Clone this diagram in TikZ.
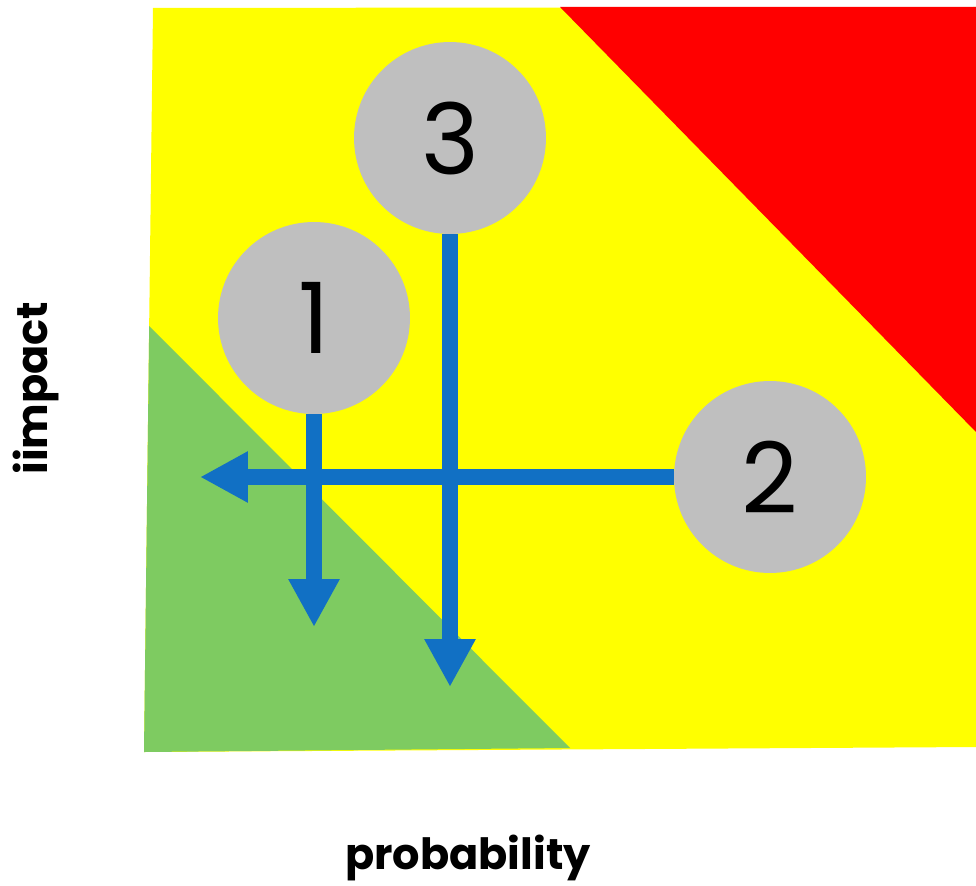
\documentclass[tikz,border=0pt]{standalone}
\usepackage{fontspec}
\setmainfont{Poppins}
\usepackage{xcolor}
\usetikzlibrary{arrows.meta}
\definecolor{zoneyellow}{HTML}{FFFF00}
\definecolor{zonered}{HTML}{FF0000}
\definecolor{zonegreen}{HTML}{7ECB61}
\definecolor{riskgray}{HTML}{BFBFBF}
\definecolor{moveblue}{HTML}{1170C4}
\tikzset{
  risk/.style={circle, fill=riskgray, minimum size=3.84cm, inner sep=0pt,
               font=\fontsize{56}{60}\selectfont},
  mv/.style={-{Triangle[length=0.96cm, width=0.96cm]}, line width=0.32cm, draw=moveblue},
  axislbl/.style={font=\bfseries\fontsize{24.5}{28}\selectfont}
}

\begin{document}
\begin{tikzpicture}[x=0.02cm, y=-0.02cm]
  \useasboundingbox (0,0) rectangle (976,885);
  % zones
  \fill[zoneyellow] (153,8) -- (976,7) -- (976,747) -- (144,752) -- cycle;
  \fill[zonered] (560,7) -- (976,7) -- (976,432) -- cycle;
  \fill[zonegreen] (149.2,326) -- (570,748) -- (144,752) -- cycle;
  % risks
  \node[risk] (c3) at (450,138) {3};
  \node[risk] (c1) at (314,318) {1};
  \node[risk] (c2) at (770,477) {2};
  \coordinate (e1) at (314,627);
  \coordinate (e2) at (200,477);
  \coordinate (e3) at (450,687);
  \draw[mv] (c1.south) -- (e1);
  \draw[mv] (c3.south) -- (e3);
  \draw[mv] (c2.west) -- (e2);
  % axes
  \node[axislbl, rotate=90] (imp) at (36,388) {iimpact};
  \node[axislbl] (prob) at (468,858) {probability};
\end{tikzpicture}
\end{document}
